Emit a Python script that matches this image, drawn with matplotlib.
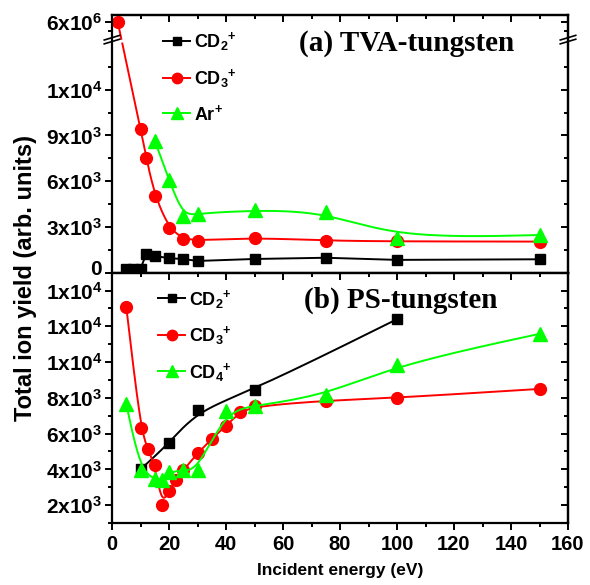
import numpy as np
import matplotlib
matplotlib.use("Agg")
import matplotlib.pyplot as plt
from matplotlib.lines import Line2D
from matplotlib.ticker import FixedLocator, FixedFormatter, MultipleLocator
from matplotlib.transforms import ScaledTranslation

SANS = "Liberation Sans"
plt.rcParams["font.family"] = [SANS, "DejaVu Sans"]
plt.rcParams["font.weight"] = "bold"
plt.rcParams["axes.labelweight"] = "bold"
plt.rcParams["mathtext.fontset"] = "custom"
plt.rcParams["mathtext.rm"] = SANS + ":bold"
plt.rcParams["mathtext.it"] = SANS + ":bold"
plt.rcParams["mathtext.bf"] = SANS + ":bold"

# (a) TVA-tungsten
a_cd2_x = [5, 7.5, 10, 12, 15, 20, 25, 30, 50, 75, 100, 150]
a_cd2_y = [250, 250, 250, 1230, 1100, 950, 900, 770, 900, 980, 840, 880]
a_cd3_x = [2, 10, 12, 15, 20, 25, 30, 50, 75, 100, 150]
a_cd3_y = [6e6, 9450, 7550, 5050, 2900, 2230, 2100, 2300, 2100, 2050, 2040]
a_ar_x = [15, 20, 25, 30, 50, 75, 100, 150]
a_ar_y = [8650, 6100, 3700, 3880, 4100, 4000, 2260, 2470]

# (b) PS-tungsten
b_cd2_x = [10, 20, 30, 50, 100]
b_cd2_y = [4000, 5450, 7300, 8450, 12400]
b_cd3_x = [5, 10, 12.5, 15, 17.5, 20, 22.5, 25, 30, 35, 40, 45, 50, 75, 100, 150]
b_cd3_y = [13100, 6300, 5150, 4250, 2000, 2800, 3400, 3950, 4900, 5700, 6450, 7200, 7530, 7850, 8000, 8500]
b_cd4_x = [5, 10, 15, 17.5, 20, 25, 30, 40, 50, 75, 100, 150]
b_cd4_y = [7650, 3950, 3450, 3400, 3850, 3950, 3950, 7280, 7550, 8150, 9850, 11580]

a_ticks = [0, 3000, 6000, 9000, 12000, 6e6]
a_labels = ["$0$", "$3x10^{3}$", "$6x10^{3}$", "$9x10^{3}$", "$1x10^{4}$", "$6x10^{6}$"]
a_minor = [1500, 4500, 7500, 10500, 13500]
b_ticks = [2000, 4000, 6000, 8000, 10000, 12000, 14000]
b_labels = ["$2x10^{3}$", "$4x10^{3}$", "$6x10^{3}$", "$8x10^{3}$",
            "$1x10^{4}$", "$1x10^{4}$", "$1x10^{4}$"]

BLACK, RED, GREEN = "#000000", "#ff0000", "#00ff00"


def squash(v):
    # top panel: values above the axis break are pulled down into the top strip
    v = np.asarray(v, dtype=float)
    return np.where(v > 1e5, 16450 + (v - 6e6) / 1e3, v)


def bspline(x, y, n=60):
    # uniform cubic B-spline with clamped ends (like Origin's B-spline line)
    px = np.r_[[x[0]] * 2, x, [x[-1]] * 2].astype(float)
    py = np.r_[[y[0]] * 2, y, [y[-1]] * 2].astype(float)
    t = np.linspace(0, 1, n)
    b = [(1 - t) ** 3 / 6, (3 * t**3 - 6 * t**2 + 4) / 6,
         (-3 * t**3 + 3 * t**2 + 3 * t + 1) / 6, t**3 / 6]
    xs, ys = [], []
    for i in range(len(px) - 3):
        xs.append(sum(b[k] * px[i + k] for k in range(4)))
        ys.append(sum(b[k] * py[i + k] for k in range(4)))
    return np.concatenate(xs), np.concatenate(ys)


fig = plt.figure(figsize=(5.9, 5.85), dpi=100)
L, W = 112 / 590, 456 / 590
ax1 = fig.add_axes([L, 1 - 272.7 / 585, W, (272.7 - 15) / 585])
ax2 = fig.add_axes([L, 1 - 523 / 585, W, (523 - 272.7) / 585])

lw = 1.4
mk = dict(square=dict(marker="s", ms=7), circle=dict(marker="o", ms=8.5),
          tri=dict(marker="^", ms=9.5))

# ---- panel (a)
ax1.plot(a_cd2_x, a_cd2_y, color=BLACK, lw=lw)
ax1.plot(a_cd2_x, a_cd2_y, ls="none", color=BLACK, **mk["square"])
cx, cy = bspline(a_cd3_x, squash(a_cd3_y))
cy[(cy > 15080) & (cy < 15340)] = np.nan
ax1.plot(cx, cy, color=RED, lw=lw)
ax1.plot(a_cd3_x, squash(a_cd3_y), ls="none", color=RED, **mk["circle"])
gx, gy = bspline(a_ar_x, a_ar_y)
ax1.plot(gx, gy, color=GREEN, lw=lw)
ax1.plot(a_ar_x, a_ar_y, ls="none", color=GREEN, **mk["tri"])
ax1.set_ylim(0, 16900)
ax1.yaxis.set_major_locator(FixedLocator(list(squash(a_ticks))))
ax1.yaxis.set_major_formatter(FixedFormatter(a_labels))
ax1.yaxis.set_minor_locator(FixedLocator(a_minor + [15850]))

# axis break marks
for xb in (0, 1):
    for yb in (0.897, 0.912):
        ax1.plot([xb - 0.017, xb + 0.017], [yb - 0.009, yb + 0.009], color="k",
                 lw=1.2, transform=ax1.transAxes, clip_on=False, zorder=5)

ax1.text(0.41, 0.86, "(a) TVA-tungsten", transform=ax1.transAxes,
         family="Liberation Serif", weight="bold", fontsize=21)

# ---- panel (b)
for xs, ys, c, m in [(b_cd2_x, b_cd2_y, BLACK, "square"),
                     (b_cd3_x, b_cd3_y, RED, "circle"),
                     (b_cd4_x, b_cd4_y, GREEN, "tri")]:
    sx, sy = bspline(xs, ys)
    ax2.plot(sx, sy, color=c, lw=lw)
    ax2.plot(xs, ys, ls="none", color=c, **mk[m])
ax2.set_ylim(1000, 15000)
ax2.yaxis.set_major_locator(FixedLocator(b_ticks))
ax2.yaxis.set_major_formatter(FixedFormatter(b_labels))
ax2.yaxis.set_minor_locator(MultipleLocator(1000))
ax2.text(0.42, 0.86, "(b) PS-tungsten", transform=ax2.transAxes,
         family="Liberation Serif", weight="bold", fontsize=21)

# ---- legends
leg_a = [Line2D([], [], color=BLACK, lw=lw, marker="s", ms=6),
         Line2D([], [], color=RED, lw=lw, marker="o", ms=7.5),
         Line2D([], [], color=GREEN, lw=lw, marker="^", ms=8)]
ax1.legend(leg_a, ["CD$_{2}{}^{+}$", "CD$_{3}{}^{+}$", "Ar$^{+}$"], loc="upper left",
           bbox_to_anchor=(0.112, 0.94), frameon=False, fontsize=13,
           handlelength=1.5, handletextpad=0.2, labelspacing=0.75, borderpad=0,
           borderaxespad=0)
leg_b = [Line2D([], [], color=BLACK, lw=lw, marker="s", ms=6),
         Line2D([], [], color=RED, lw=lw, marker="o", ms=7.5),
         Line2D([], [], color=GREEN, lw=lw, marker="^", ms=8)]
ax2.legend(leg_b, ["CD$_{2}{}^{+}$", "CD$_{3}{}^{+}$", "CD$_{4}{}^{+}$"], loc="upper left",
           bbox_to_anchor=(0.101, 0.94), frameon=False, fontsize=13,
           handlelength=1.5, handletextpad=0.2, labelspacing=0.75, borderpad=0,
           borderaxespad=0)

# ---- axes styling
for ax in (ax1, ax2):
    ax.set_xlim(0, 160)
    ax.xaxis.set_major_locator(MultipleLocator(20))
    ax.xaxis.set_minor_locator(MultipleLocator(10))
    for s in ax.spines.values():
        s.set_linewidth(1.6)
    ax.tick_params(which="both", direction="out", width=1.4)
    ax.tick_params(axis="y", labelsize=15, pad=2)
    ax.tick_params(axis="x", labelsize=14.5, pad=4)
    ax.tick_params(which="major", length=5)
    ax.tick_params(which="minor", length=3)
    top = ax.secondary_xaxis("top")
    top.xaxis.set_major_locator(MultipleLocator(20))
    top.xaxis.set_minor_locator(MultipleLocator(10))
    top.tick_params(which="both", direction="in", width=1.4, labeltop=False)
    top.tick_params(which="major", length=5)
    top.tick_params(which="minor", length=3)
    right = ax.secondary_yaxis("right")
    right.yaxis.set_major_locator(FixedLocator(list(ax.yaxis.get_majorticklocs())))
    right.yaxis.set_minor_locator(FixedLocator(list(ax.yaxis.get_minorticklocs())))
    right.tick_params(which="both", direction="in", width=1.4, labelright=False)
    right.tick_params(which="major", length=5)
    right.tick_params(which="minor", length=3)
    for sec in (top, right):
        for s in sec.spines.values():
            s.set_linewidth(1.6)

# lift the "0" of the top panel a little, it sits just above the tick as in the original
zero = ax1.yaxis.get_major_ticks()[0].label1
zero.set_transform(zero.get_transform() + ScaledTranslation(0, 0.05, fig.dpi_scale_trans))

ax1.tick_params(axis="x", labelbottom=False)
ax2.set_xlabel("Incident energy (eV)", fontsize=12.5, labelpad=6)
fig.text(0.044, 0.525, "Total ion yield (arb. units)", rotation=90, ha="center",
         va="center", fontsize=17, weight="bold")

fig.savefig("out.png", dpi=100)
